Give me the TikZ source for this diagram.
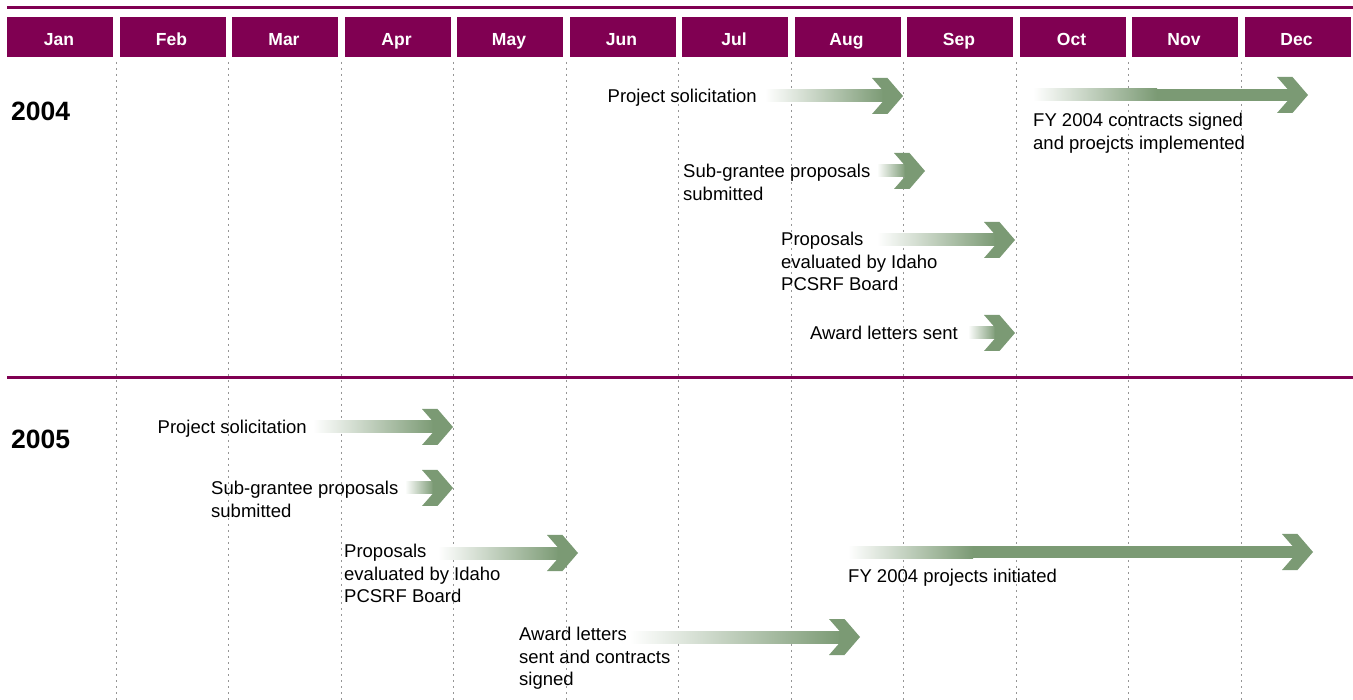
\documentclass[tikz,border=0pt]{standalone}
\usepackage{fontspec}
\setmainfont{Liberation Sans}
\usepackage{xcolor}
\definecolor{Plum}{RGB}{128,0,82}
\definecolor{Leaf}{RGB}{123,154,116}
\definecolor{Grid}{RGB}{150,150,150}
% #1 shaft start, #2 end of fade, #3 tip, #4 centre line
\newcommand{\stagearrow}[4]{%
\shade[left color=white, right color=Leaf] (#1,#4-6) rectangle (#2,#4+6);
\fill[Leaf] (#2-0.5,#4-6) rectangle (#3-19.5,#4+6);
\fill[Leaf] (#3,#4) -- (#3-15.5,#4-18) -- (#3-31,#4-18) -- (#3-20.5,#4-6)
  -- (#3-20.5,#4+6) -- (#3-31,#4+18) -- (#3-15.5,#4+18) -- cycle;
}

\begin{document}
\begin{tikzpicture}[x=1pt,y=-1pt,
  month/.style={text=white, font=\fontsize{17.5}{20}\bfseries},
  year/.style={font=\fontsize{26.5}{30}\bfseries, inner sep=0pt},
  task/.style={font=\fontsize{18.5}{22.5}\selectfont, align=left, inner sep=0pt}]
\useasboundingbox (0,0) rectangle (1353,700);

\draw[Plum, line width=2.2pt] (7,7.5) -- (1353,7.5);
\draw[Plum, line width=2.6pt] (7,377.5) -- (1353,377.5);

\foreach \i in {0,...,10}
  \draw[Grid, line width=1pt, dash pattern=on 2pt off 4pt] (116+112.5*\i,62) -- (116+112.5*\i,700);

\foreach \m [count=\i from 0] in {Jan,Feb,Mar,Apr,May,Jun,Jul,Aug,Sep,Oct,Nov,Dec} {
  \fill[Plum] (7+112.5*\i,17) rectangle (113+112.5*\i,57);
  \node[month, anchor=base] (m\i) at (59+112.5*\i,45.5) {\m};
}

\node[year, anchor=base west] (y2004) at (11,120.5) {2004};
\node[year, anchor=base west] (y2005) at (11,448.5) {2005};

% 2004
\stagearrow{765}{884}{903}{96}
\stagearrow{877}{906}{925}{171}
\stagearrow{877}{996}{1015}{240}
\stagearrow{968}{996}{1015}{333}
\stagearrow{1033}{1157}{1308}{95}
\node[task, anchor=base east] (sol04) at (757,102.5) {Project solicitation};
\node[task, anchor=north west] (sub04) at (683,164.3) {Sub-grantee proposals\\submitted};
\node[task, anchor=north west] (eval04) at (781,232.3) {Proposals\\evaluated by Idaho\\PCSRF Board};
\node[task, anchor=base east] (award04) at (958,339.5) {Award letters sent};
\node[task, anchor=north west] (fy04) at (1033,113.3) {FY 2004 contracts signed\\and proejcts implemented};

% 2005
\stagearrow{313}{434}{453}{427}
\stagearrow{405}{434}{453}{488}
\stagearrow{438}{559}{578}{553}
\stagearrow{630}{841}{860}{637}
\stagearrow{848}{973}{1313}{552}
\node[task, anchor=base east] (sol05) at (307,433.5) {Project solicitation};
\node[task, anchor=north west] (sub05) at (211,481.3) {Sub-grantee proposals\\submitted};
\node[task, anchor=north west] (eval05) at (344,544.3) {Proposals\\evaluated by Idaho\\PCSRF Board};
\node[task, anchor=north west] (award05) at (519,627.3) {Award letters\\sent and contracts\\signed};
\node[task, anchor=base west] (fy05) at (848,582.5) {FY 2004 projects initiated};
\end{tikzpicture}
\end{document}
